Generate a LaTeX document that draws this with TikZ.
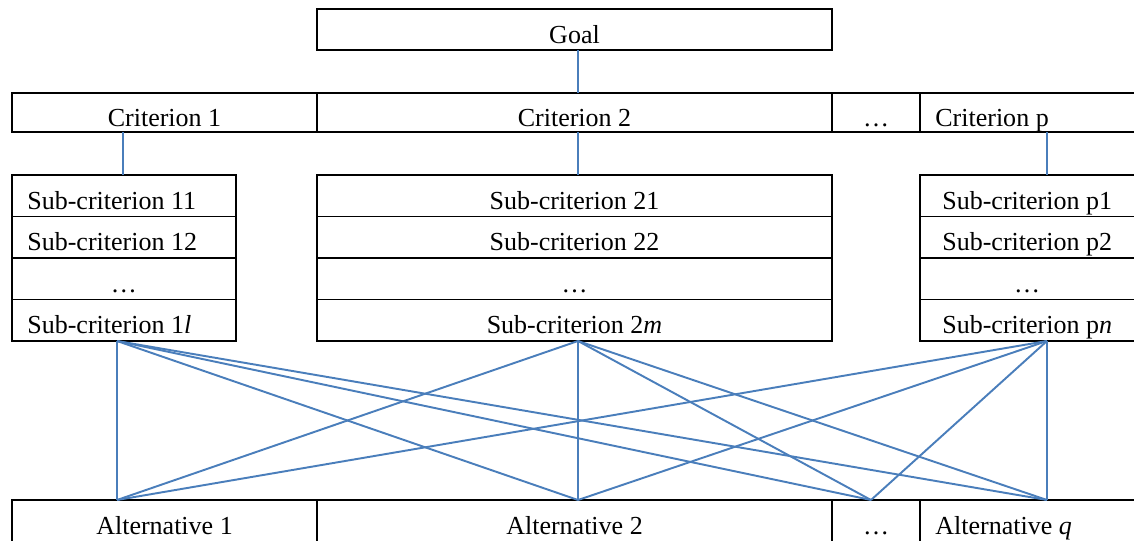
\documentclass[tikz,border=0pt]{standalone}
\usepackage{fontspec}
\setmainfont{Liberation Serif}
\definecolor{linkblue}{RGB}{74,126,187}
\begin{document}
\begin{tikzpicture}[x=0.02cm,y=-0.02cm,
  txt/.style={inner sep=0pt, text height=9.8pt, text depth=0pt, yshift=-0.1cm,
    font=\fontsize{14.8}{17}\selectfont},
  cell/.style={draw=black, line width=1.1pt, rectangle, inner sep=0pt, outer sep=0pt,
    anchor=north west},
  link/.style={draw=linkblue, line width=1.1pt}]
\useasboundingbox (0,0) rectangle (1134,541);
\clip (0,0) rectangle (1134,541);

% goal
\node[cell, minimum width={515*0.02cm}, minimum height={41*0.02cm}] (goal) at (317,9) {};
\node[txt] (goalt) at (goal.center) {Goal};

% criteria row
\node[cell, minimum width={305*0.02cm}, minimum height={39*0.02cm}] (c1) at (12,93) {};
\node[cell, minimum width={515*0.02cm}, minimum height={39*0.02cm}] (c2) at (317,93) {};
\node[cell, minimum width={88*0.02cm}, minimum height={39*0.02cm}] (cd) at (832,93) {};
\node[cell, minimum width={240*0.02cm}, minimum height={39*0.02cm}] (cp) at (920,93) {};
\node[txt] (c1t) at (c1.center) {Criterion 1};
\node[txt] (c2t) at (c2.center) {Criterion 2};
\node[txt] (cdt) at (cd.center) {…};
\node[txt, anchor=west] (cpt) at (935,112.5) {Criterion p};

% sub-criteria of criterion 1
\foreach \n/\y in {a/175,b/216.5,c/258,d/299.5}
  \node[cell, minimum width={224*0.02cm}, minimum height={41.5*0.02cm}] (s1\n) at (12,\y) {};
\node[txt, anchor=west] (s1at) at (27,195.75) {Sub-criterion 11};
\node[txt, anchor=west] (s1bt) at (27,237.25) {Sub-criterion 12};
\node[txt] (s1ct) at (s1c.center) {…};
\node[txt, anchor=west] (s1dt) at (27,320.25) {Sub-criterion 1\textit{l}};

% sub-criteria of criterion 2
\foreach \n/\y in {a/175,b/216.5,c/258,d/299.5}
  \node[cell, minimum width={515*0.02cm}, minimum height={41.5*0.02cm}] (s2\n) at (317,\y) {};
\node[txt] (s2at) at (s2a.center) {Sub-criterion 21};
\node[txt] (s2bt) at (s2b.center) {Sub-criterion 22};
\node[txt] (s2ct) at (s2c.center) {…};
\node[txt] (s2dt) at (s2d.center) {Sub-criterion 2\textit{m}};

% sub-criteria of criterion p
\foreach \n/\y in {a/175,b/216.5,c/258,d/299.5}
  \node[cell, minimum width={240*0.02cm}, minimum height={41.5*0.02cm}] (sp\n) at (920,\y) {};
\node[txt, anchor=west] (spat) at (942,195.75) {Sub-criterion p1};
\node[txt, anchor=west] (spbt) at (942,237.25) {Sub-criterion p2};
\node[txt] (spct) at (1027,278.75) {…};
\node[txt, anchor=west] (spdt) at (942,320.25) {Sub-criterion p\textit{n}};

% alternatives row
\node[cell, minimum width={305*0.02cm}, minimum height={42*0.02cm}] (a1) at (12,500) {};
\node[cell, minimum width={515*0.02cm}, minimum height={42*0.02cm}] (a2) at (317,500) {};
\node[cell, minimum width={88*0.02cm}, minimum height={42*0.02cm}] (ad) at (832,500) {};
\node[cell, minimum width={240*0.02cm}, minimum height={42*0.02cm}] (aq) at (920,500) {};
\node[txt] (a1t) at (a1.center) {Alternative 1};
\node[txt] (a2t) at (a2.center) {Alternative 2};
\node[txt] (adt) at (ad.center) {…};
\node[txt, anchor=west] (aqt) at (935,521) {Alternative \textit{q}};

% connector columns
\coordinate (x1) at (123,0);
\coordinate (x2) at (578,0);
\coordinate (xp) at (1047,0);

% hierarchy links
\draw[link] (goal.south -| x2) -- (c2.north -| x2);
\draw[link] (c1.south -| x1) -- (s1a.north -| x1);
\draw[link] (c2.south -| x2) -- (s2a.north -| x2);
\draw[link] (cp.south -| xp) -- (spa.north -| xp);

% bottom ends of sub-criteria blocks and top points of alternatives
\coordinate (t1) at (117,341);
\coordinate (t2) at (578,341);
\coordinate (tp) at (1047,341);
\coordinate (b1) at (117,500);
\coordinate (b2) at (578,500);
\coordinate (bd) at (871,500);
\coordinate (bq) at (1047,500);

\foreach \t in {t1,t2,tp}
  \foreach \b in {b1,b2,bd,bq}
    \draw[link] (\t) -- (\b);
\end{tikzpicture}
\end{document}
